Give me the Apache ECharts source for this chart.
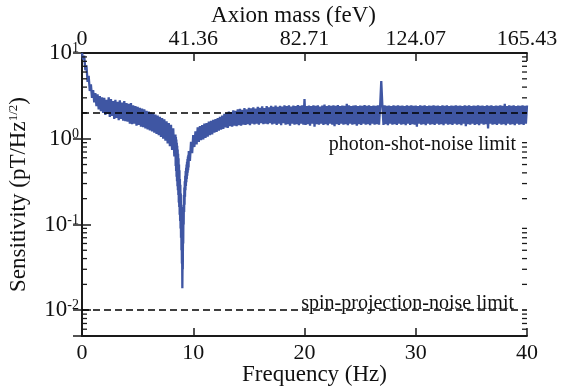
<!DOCTYPE html>
<html><head><meta charset="utf-8">
<script src="https://cdn.jsdelivr.net/npm/echarts@6/dist/echarts.min.js"></script>
<style>html,body{margin:0;padding:0;background:#fff}#c{width:562px;height:389px}</style>
</head><body><div id="c"></div>
<script>
const FONT = "'Liberation Serif','Times New Roman',serif";
const freqMin = 0, freqMax = 40, freqInterval = 10;
const massLabels = ['0', '41.36', '82.71', '124.07', '165.43'];
const sensMin = 0.005, sensMax = 10;
const photonLimit = 2;
const spinLimit = 0.008;
const photonText = 'photon-shot-noise limit';
const spinText = 'spin-projection-noise limit';

// segment A: 0.0 .. 8.4 Hz, step 0.1
const segAStart = 0.0, segAStep = 0.1;
const segA = [
  10, 8.4, 9.3, 6.3, 7.2, 4.6, 5.4, 3.6, 4.3, 3.0,
  3.7, 2.65, 3.4, 2.4, 3.3, 2.2, 3.15, 2.1, 3.05, 2.0,
  3.0, 1.9, 2.85, 1.95, 3.05, 1.8, 2.9, 1.85, 2.75, 1.7,
  2.85, 1.75, 2.7, 1.65, 2.8, 1.7, 2.65, 1.62, 2.75, 1.6,
  2.6, 1.58, 2.55, 1.5, 2.6, 1.48, 2.45, 1.5, 2.4, 1.42,
  2.35, 1.45, 2.3, 1.38, 2.25, 1.36, 2.2, 1.32, 2.12, 1.28,
  2.08, 1.25, 2.02, 1.22, 1.98, 1.18, 1.92, 1.14, 1.86, 1.1,
  1.8, 1.05, 1.74, 1.0, 1.68, 0.95, 1.6, 0.88, 1.52, 0.82,
  1.45, 0.74, 1.32, 0.62, 1.12
];
// segment B: resonance dip 8.42 .. 9.58 Hz, step 0.02
const segBStart = 8.42, segBStep = 0.02;
const segB = [
  0.48, 1.05, 0.42, 0.98, 0.36, 0.9, 0.32, 0.83, 0.28, 0.75,
  0.25, 0.67, 0.22, 0.59, 0.18, 0.5, 0.16, 0.43, 0.13, 0.34,
  0.11, 0.29, 0.09, 0.23, 0.07, 0.17, 0.05, 0.1, 0.035, 0.05,
  0.018, 0.04, 0.03, 0.09, 0.06, 0.16, 0.1, 0.22, 0.14, 0.27,
  0.17, 0.32, 0.21, 0.37, 0.25, 0.42, 0.28, 0.46, 0.31, 0.5,
  0.34, 0.54, 0.37, 0.58, 0.4, 0.62, 0.43, 0.65, 0.46
];
// segment C: 9.6 .. 40.0 Hz, step 0.1
const segCStart = 9.6, segCStep = 0.1;
const segC = [
  0.72, 0.55, 0.92, 0.68, 1.1, 0.8, 1.22, 0.86, 1.36, 0.92,
  1.4, 0.96, 1.44, 0.98, 1.5, 1.02, 1.52, 1.06, 1.58, 1.1,
  1.62, 1.12, 1.66, 1.18, 1.7, 1.2, 1.74, 1.24, 1.8, 1.28,
  1.86, 1.3, 1.95, 1.36, 2.0, 1.34, 2.08, 1.4, 2.05, 1.38,
  2.15, 1.42, 2.12, 1.4, 2.2, 1.44, 2.24, 1.42, 2.18, 1.46,
  2.28, 1.45, 2.2, 1.48, 2.3, 1.44, 2.26, 1.5, 2.32, 1.47,
  2.25, 1.5, 2.35, 1.46, 2.3, 1.52, 2.38, 1.48, 2.28, 1.5,
  2.4, 1.48, 2.32, 1.52, 2.42, 1.47, 2.36, 1.5, 2.44, 1.45,
  2.35, 1.5, 2.42, 1.44, 2.38, 1.52, 2.46, 1.46, 2.4, 1.48,
  2.45, 1.42, 2.38, 1.5, 2.44, 1.46, 2.4, 1.48, 2.47, 1.44,
  2.42, 1.5, 2.45, 1.46, 2.9, 1.45, 2.4, 1.48, 2.44, 1.42,
  2.4, 1.5, 2.46, 1.38, 2.42, 1.48, 2.45, 1.46, 2.38, 1.5,
  2.44, 1.45, 2.5, 1.48, 2.4, 1.44, 2.46, 1.5, 2.42, 1.46,
  2.45, 1.4, 2.42, 1.48, 2.47, 1.45, 2.4, 1.5, 2.44, 1.46,
  2.42, 1.48, 2.55, 1.44, 2.45, 1.5, 2.4, 1.46, 2.44, 1.48,
  2.46, 1.42, 2.4, 1.48, 2.44, 1.45, 2.42, 1.5, 2.47, 1.46,
  2.42, 1.48, 2.45, 1.44, 2.4, 1.5, 2.44, 1.46, 2.42, 1.48,
  2.45, 1.46, 2.42, 4.7, 2.4, 1.45, 2.46, 1.48, 2.42, 1.44,
  2.44, 1.5, 2.4, 1.46, 2.45, 1.48, 2.42, 1.45, 2.46, 1.5,
  2.42, 1.46, 2.44, 1.48, 2.4, 1.44, 2.46, 1.5, 2.42, 1.45,
  2.45, 1.48, 2.42, 1.46, 2.44, 1.38, 2.4, 1.5, 2.46, 1.46,
  2.42, 1.48, 2.45, 1.44, 2.4, 1.5, 2.44, 1.46, 2.42, 1.48,
  2.46, 1.45, 2.42, 1.5, 2.44, 1.46, 2.4, 1.48, 2.45, 1.44,
  2.42, 1.5, 2.46, 1.46, 2.4, 1.48, 2.44, 1.45, 2.42, 1.5,
  2.45, 1.46, 2.42, 1.48, 2.44, 1.44, 2.4, 1.5, 2.46, 1.4,
  2.42, 1.48, 2.45, 1.46, 2.4, 1.5, 2.44, 1.45, 2.42, 1.48,
  2.46, 1.44, 2.42, 1.5, 2.44, 1.46, 2.4, 1.48, 2.45, 1.32,
  2.42, 1.5, 2.46, 1.46, 2.4, 1.48, 2.44, 1.45, 2.42, 1.5,
  2.45, 1.46, 2.42, 1.48, 2.55, 1.44, 2.4, 1.5, 2.46, 1.46,
  2.42, 1.48, 2.45, 1.44, 2.4, 1.5, 2.44, 1.46, 2.42, 1.48,
  2.46, 1.45, 2.42, 1.5, 2.44
];
const minorMultipliers = [2, 3, 4, 5, 6, 7, 8, 9];
const minorDecades = [0.001, 0.01, 0.1, 1];

function seg(start, step, vals) {
  return vals.map((v, i) => [Math.round((start + i * step) * 1000) / 1000, v]);
}
const lineData = seg(segAStart, segAStep, segA)
  .concat(seg(segBStart, segBStep, segB))
  .concat(seg(segCStart, segCStep, segC));

const minorTicks = [];
minorDecades.forEach(d => minorMultipliers.forEach(m => {
  const v = m * d;
  if (v > sensMin && v < sensMax) minorTicks.push([0, v]);
}));

const AX = '#1a1a1a';
const chart = echarts.init(document.getElementById('c'), null, {renderer: 'canvas'});

function yLabel(v) {
  const e = Math.log10(v);
  const r = Math.round(e);
  if (Math.abs(e - r) > 1e-6) return '';
  return '{b|10}{sup|' + r + '}';
}
const yRich = {
  b: {fontSize: 23, fontFamily: FONT, color: '#111', lineHeight: 23},
  sup: {fontSize: 14, fontFamily: FONT, color: '#111', verticalAlign: 'top', lineHeight: 14}
};

const baseX = {
  type: 'value', min: freqMin, max: freqMax, interval: freqInterval,
  axisLine: {show: true, lineStyle: {color: AX, width: 1.8}},
  axisTick: {show: true, inside: true, length: 8, lineStyle: {color: AX, width: 1.5}},
  splitLine: {show: false},
  axisLabel: {fontFamily: FONT, fontSize: 22, color: '#111'},
  nameMoveOverlap: false
};
const baseY = {
  type: 'log', logBase: 10, min: sensMin, max: sensMax,
  axisLine: {show: true, lineStyle: {color: AX, width: 1.8}},
  axisTick: {show: true, inside: true, length: 9, lineStyle: {color: AX, width: 1.5}},
  splitLine: {show: false},
  nameMoveOverlap: false
};

chart.setOption({
  animation: false,
  backgroundColor: '#fff',
  grid: {left: 82, right: 35, top: 53, bottom: 53, containLabel: false, outerBoundsMode: 'none'},
  xAxis: [
    Object.assign({}, baseX, {
      position: 'bottom',
      axisLabel: Object.assign({}, baseX.axisLabel, {margin: 6}),
      name: 'Frequency (Hz)', nameLocation: 'middle', nameGap: 27,
      nameTextStyle: {fontFamily: FONT, fontSize: 23, color: '#111', padding: [0, 0, 0, 20]}
    }),
    Object.assign({}, baseX, {
      position: 'top',
      axisLabel: Object.assign({}, baseX.axisLabel, {margin: 3,
        formatter: v => massLabels[Math.round((v - freqMin) / freqInterval)]}),
      name: 'Axion mass (feV)', nameLocation: 'middle', nameGap: 26,
      nameTextStyle: {fontFamily: FONT, fontSize: 23, color: '#111', padding: [0, 22, 0, 0]}
    })
  ],
  yAxis: [
    Object.assign({}, baseY, {
      position: 'left',
      axisLabel: {formatter: yLabel, rich: yRich, margin: 3},
      name: 'Sensitivity (pT/Hz{sup|1/2})', nameLocation: 'middle', nameGap: 52, nameRotate: 90,
      nameTextStyle: {fontFamily: FONT, fontSize: 23, color: '#111',
        rich: {sup: {fontSize: 13, fontFamily: FONT, color: '#111', verticalAlign: 'top', lineHeight: 13}}}
    }),
    Object.assign({}, baseY, {
      position: 'right',
      axisLabel: {show: false}
    })
  ],
  series: [
    {
      type: 'line', xAxisIndex: 0, yAxisIndex: 0,
      data: lineData, showSymbol: false, symbol: 'none', sampling: null,
      lineStyle: {color: '#3f56a3', width: 2.3},
      z: 3,
      markLine: {
        silent: true, symbol: 'none', animation: false,
        label: {show: false},
        lineStyle: {color: '#000', type: [7, 4], width: 1.7},
        data: [{yAxis: photonLimit}, {yAxis: spinLimit}]
      }
    },
    {
      type: 'custom', xAxisIndex: 0, yAxisIndex: 0, silent: true, z: 4,
      data: minorTicks,
      clip: false,
      renderItem: function (params, api) {
        const p = api.coord([0, api.value(1)]);
        const cs = params.coordSys;
        return {
          type: 'group',
          children: [
            {type: 'line', shape: {x1: cs.x, y1: p[1], x2: cs.x + 5, y2: p[1]}, style: {stroke: AX, lineWidth: 1.3}},
            {type: 'line', shape: {x1: cs.x + cs.width - 5, y1: p[1], x2: cs.x + cs.width, y2: p[1]}, style: {stroke: AX, lineWidth: 1.3}}
          ]
        };
      }
    }
  ]
});

const yPhoton = chart.convertToPixel({yAxisIndex: 0}, photonLimit);
const ySpin = chart.convertToPixel({yAxisIndex: 0}, spinLimit);
const xRight = chart.convertToPixel({xAxisIndex: 0}, freqMax);
chart.setOption({
  graphic: [
    {type: 'text', x: xRight - 11, y: yPhoton + 32, z: 10,
      style: {text: photonText, font: '20px ' + FONT, fill: '#111', align: 'right', verticalAlign: 'middle'}},
    {type: 'text', x: xRight - 13, y: ySpin - 15, z: 10,
      style: {text: spinText, font: '20px ' + FONT, fill: '#111', align: 'right', verticalAlign: 'middle'}}
  ]
});
</script>
</body></html>
